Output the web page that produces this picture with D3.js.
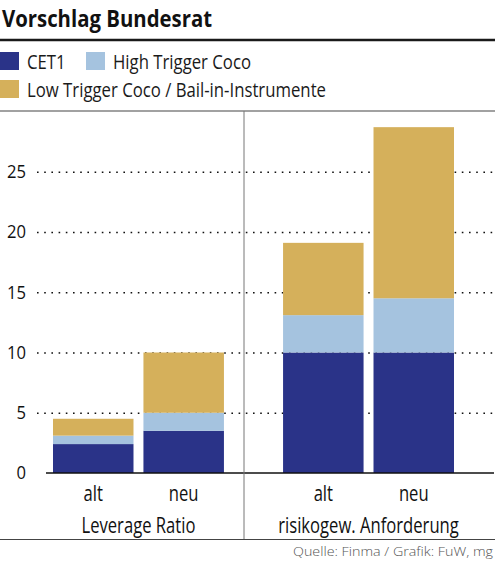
<!DOCTYPE html>
<html>
<head>
<meta charset="utf-8">
<script src="https://cdn.jsdelivr.net/npm/d3@7"></script>
<style>
  body { margin: 0; background: #fff; }
  svg { display: block; }
  .cond { font-family: "Open Sans", "Noto Sans", sans-serif; }
</style>
</head>
<body>
<svg id="chart" width="500" height="563"></svg>
<script>
// ---------------- data ----------------
const groups = ["Leverage Ratio", "risikogew. Anforderung"]
const periods = ["alt", "neu"]
const seriesNames = ["CET1", "High Trigger Coco", "Low Trigger Coco / Bail-in-Instrumente"]
const cet1 = [2.4, 3.5, 10.0, 10.0]
const highTrigger = [0.7, 1.5, 3.1, 4.5]
const lowTrigger = [1.4, 5.0, 6.0, 14.2]
const yTicks = [0, 5, 10, 15, 20, 25]
const colors = ["#2a3388", "#a5c3df", "#d5b05b"]

// build rows: one per bar
let rows = []
groups.forEach(function(g, gi) {
  periods.forEach(function(p, pi) {
    let i = gi * periods.length + pi
    rows.push({ group: g, period: p, cet1: cet1[i], high: highTrigger[i], low: lowTrigger[i] })
  })
})
const keys = ["cet1", "high", "low"]
const stacked = d3.stack().keys(keys)(rows)

const svg = d3.select("#chart")

// squeeze text horizontally to imitate the condensed face of the original
function squeeze(sel, refNode, refWidth) {
  let k = refWidth / refNode.getComputedTextLength()
  sel.each(function() {
    let len = this.getComputedTextLength()
    d3.select(this)
      .attr("textLength", len * k)
      .attr("lengthAdjust", "spacingAndGlyphs")
  })
}

// ---------------- scales ----------------
let y = d3.scaleLinear().domain([0, 30]).range([473, 111.5])

let xGroup = d3.scaleBand()
  .domain(groups)
  .range([53, 454])
  .paddingInner(0.257)
  .paddingOuter(0)

let xPeriod = d3.scaleBand()
  .domain(periods)
  .range([0, xGroup.bandwidth()])
  .paddingInner(0.11)

// ---------------- header ----------------
let title = svg.append("text")
  .attr("class", "cond")
  .attr("x", 2)
  .attr("y", 27)
  .attr("font-size", 24)
  .attr("font-weight", "bold")
  .attr("fill", "#111")
  .text("Vorschlag Bundesrat")
squeeze(title, title.node(), 210)

svg.append("line")
  .attr("x1", 0).attr("x2", 495)
  .attr("y1", 40).attr("y2", 40)
  .attr("stroke", "#1a1a1a")
  .attr("stroke-width", 2.5)

// legend
const legendPos = [[0, 52], [86, 52], [0, 80]]
let legend = svg.selectAll(".legend")
  .data(seriesNames)
  .enter()
  .append("g")
  .attr("class", "legend")
  .attr("transform", function(d, i) {
    return "translate(" + legendPos[i][0] + "," + legendPos[i][1] + ")"
  })

legend.append("rect")
  .attr("width", 19)
  .attr("height", 18)
  .attr("fill", function(d, i) { return colors[i] })

let legendText = legend.append("text")
  .attr("class", "cond")
  .attr("x", 27)
  .attr("y", 17)
  .attr("font-size", 19.5)
  .attr("fill", "#1a1a1a")
  .text(function(d) { return d })
squeeze(legendText, legendText.nodes()[2], 299)

svg.append("line")
  .attr("x1", 0).attr("x2", 495)
  .attr("y1", 111).attr("y2", 111)
  .attr("stroke", "#444")
  .attr("stroke-width", 1.2)

// ---------------- y axis + gridlines ----------------
let yAxis = d3.axisLeft(y)
  .tickValues(yTicks)
  .tickSize(-(495 - 37))
  .tickPadding(11)
  .tickFormat(d3.format("d"))

let yg = svg.append("g")
  .attr("transform", "translate(37,0)")
  .call(yAxis)

yg.select(".domain").remove()
yg.selectAll(".tick line")
  .attr("stroke", "#111")
  .attr("stroke-width", 1.6)
  .attr("stroke-dasharray", "1.6,5.6")
  .attr("stroke-opacity", function(d) { return d === 0 ? 0 : 1 })
let tickText = yg.selectAll(".tick text")
  .attr("class", "cond")
  .attr("font-size", 18.5)
  .attr("fill", "#111")
squeeze(tickText, tickText.nodes()[5], 19)

// ---------------- bars ----------------
let layer = svg.selectAll(".layer")
  .data(stacked)
  .enter()
  .append("g")
  .attr("class", "layer")
  .attr("fill", function(d, i) { return colors[i] })

layer.selectAll("rect")
  .data(function(d) { return d })
  .enter()
  .append("rect")
  .attr("x", function(d) { return xGroup(d.data.group) + xPeriod(d.data.period) })
  .attr("width", xPeriod.bandwidth())
  .attr("y", function(d) { return y(d[1]) })
  .attr("height", function(d) { return y(d[0]) - y(d[1]) })

// baseline
svg.append("line")
  .attr("x1", 46).attr("x2", 494)
  .attr("y1", y(0)).attr("y2", y(0))
  .attr("stroke", "#111")
  .attr("stroke-width", 1.6)

// group divider
svg.append("line")
  .attr("x1", 244).attr("x2", 244)
  .attr("y1", 111).attr("y2", 539)
  .attr("stroke", "#777")
  .attr("stroke-width", 1)

// ---------------- x labels ----------------
groups.forEach(function(g) {
  let xa = d3.axisBottom(xPeriod).tickSize(0).tickPadding(13)
  let gg = svg.append("g")
    .attr("class", "xaxis")
    .attr("transform", "translate(" + xGroup(g) + "," + y(0) + ")")
    .call(xa)
  gg.select(".domain").remove()
  gg.selectAll(".tick text")
    .attr("class", "cond")
    .attr("font-size", 21)
    .attr("fill", "#111")
})

let groupText = svg.selectAll(".groupLabel")
  .data(groups)
  .enter()
  .append("text")
  .attr("class", "cond groupLabel")
  .attr("x", function(d) { return xGroup(d) + xGroup.bandwidth() / 2 })
  .attr("y", 532.5)
  .attr("text-anchor", "middle")
  .attr("font-size", 21)
  .attr("fill", "#111")
  .text(function(d) { return d })

let catText = svg.selectAll(".xaxis .tick text")
squeeze(catText, groupText.nodes()[0], 114)
squeeze(groupText, groupText.nodes()[0], 114)

svg.append("line")
  .attr("x1", 0).attr("x2", 495)
  .attr("y1", 539.5).attr("y2", 539.5)
  .attr("stroke", "#444")
  .attr("stroke-width", 1.2)

let source = svg.append("text")
  .attr("x", 493)
  .attr("y", 556)
  .attr("text-anchor", "end")
  .attr("font-family", "'Open Sans', sans-serif")
  .attr("font-weight", 300)
  .attr("font-size", 13)
  .attr("fill", "#555")
  .text("Quelle: Finma / Grafik: FuW, mg")
squeeze(source, source.node(), 200)
</script>
</body>
</html>
